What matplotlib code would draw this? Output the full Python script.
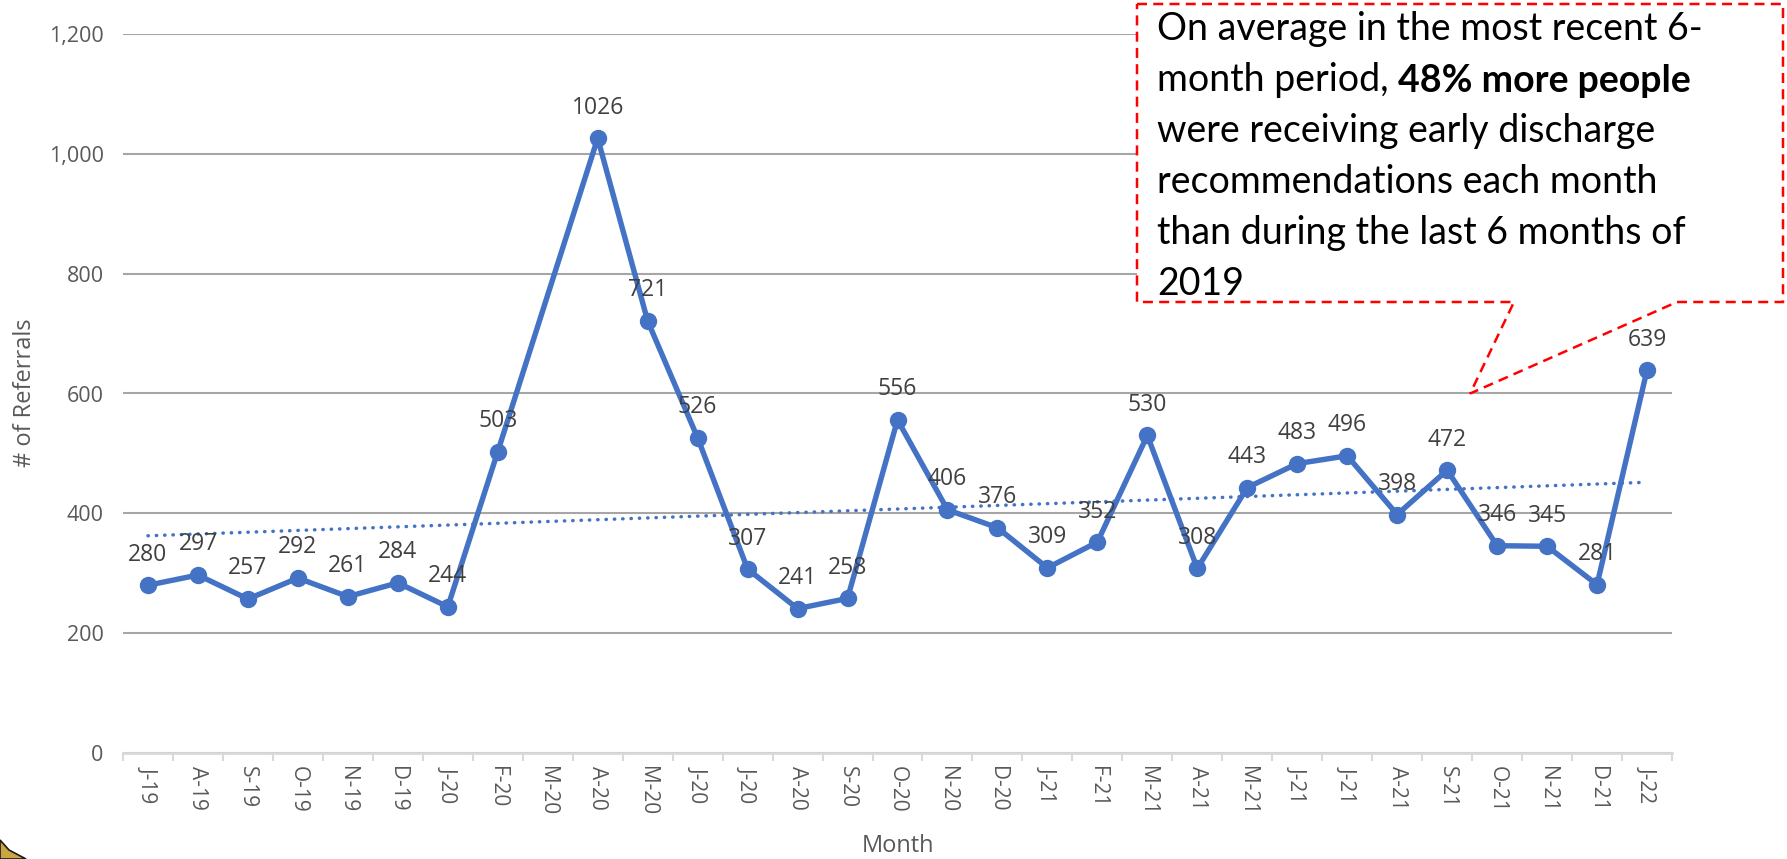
"""Monthly early-discharge referrals, Jul 2019 - Jan 2022, with linear trend."""

import numpy as np
import matplotlib
matplotlib.use("Agg")
import matplotlib.pyplot as plt
import matplotlib.ticker as mticker
from matplotlib.patches import Polygon
from matplotlib.text import Annotation

# --- data -------------------------------------------------------------------
MONTHS = [
    "J-19", "A-19", "S-19", "O-19", "N-19", "D-19",
    "J-20", "F-20", "M-20", "A-20", "M-20", "J-20",
    "J-20", "A-20", "S-20", "O-20", "N-20", "D-20",
    "J-21", "F-21", "M-21", "A-21", "M-21", "J-21",
    "J-21", "A-21", "S-21", "O-21", "N-21", "D-21",
    "J-22",
]
# M-20 has no value in the source chart; the line simply bridges it
REFERRALS = [
    280, 297, 257, 292, 261, 284,
    244, 503, None, 1026, 721, 526,
    307, 241, 258, 556, 406, 376,
    309, 352, 530, 308, 443, 483,
    496, 398, 472, 346, 345, 281,
    639,
]
Y_TICKS = [0, 200, 400, 600, 800, 1000, 1200]

CALLOUT_LINES = [
    "On average in the most recent 6-",
    "month period, ",
    "were receiving early discharge",
    "recommendations each month",
    "than during the last 6 months of",
    "2019",
]
CALLOUT_BOLD = "48% more people"
CALLOUT_POINT = (26.46, 600)   # where the callout pointer touches

BLUE = "#4472C4"
GREY_TXT = "#595959"
LABEL_TXT = "#404040"

W, H = 1787, 859


def px(x, y):
    """figure pixel (origin top-left) -> figure fraction"""
    return x / W, 1 - y / H


def main() -> None:
    fig = plt.figure(figsize=(W / 100, H / 100), dpi=100)
    ax = fig.add_axes([123 / W, 1 - 753 / H, 1549 / W, 719 / H])

    xs = np.arange(len(MONTHS))
    ys = np.array([np.nan if v is None else v for v in REFERRALS], dtype=float)
    ok = ~np.isnan(ys)

    # trend line (least squares over the months that have data, as Excel does)
    slope, icpt = np.polyfit(xs[ok], ys[ok], 1)
    ax.plot(xs, slope * xs + icpt, color=BLUE, lw=2.5,
            linestyle=(0, (0.1, 2.3)), dash_capstyle="round", zorder=3)

    ax.plot(xs[ok], ys[ok], color=BLUE, lw=3.9, marker="o", markersize=11.5,
            solid_joinstyle="round", zorder=4)

    for x, y in zip(xs[ok], ys[ok]):
        ax.annotate(f"{int(y)}", (x, y), xytext=(0, 22), textcoords="offset points",
                    ha="center", va="center", fontsize=16.5, color=LABEL_TXT,
                    family=["Open Sans", "DejaVu Sans"], zorder=5)

    # axes styling
    ax.set_xlim(-0.5, len(MONTHS) - 0.5)
    ax.set_ylim(0, 1200)
    ax.set_yticks(Y_TICKS)
    ax.yaxis.set_major_formatter(mticker.FuncFormatter(lambda v, _: f"{int(v):,}"))
    ax.set_xticks(xs)
    ax.set_xticklabels(MONTHS, rotation=-90)
    ax.set_xticks(np.arange(len(MONTHS) + 1) - 0.5, minor=True)
    ax.tick_params(axis="x", which="major", length=0, pad=9, labelsize=15,
                   labelcolor=GREY_TXT)
    ax.tick_params(axis="x", which="minor", length=6, width=1.5, color="#D9D9D9")
    ax.tick_params(axis="y", length=0, pad=14, labelsize=15.5, labelcolor=GREY_TXT)
    for lab in ax.get_xticklabels() + ax.get_yticklabels():
        lab.set_family(["Open Sans", "DejaVu Sans"])

    ax.grid(axis="y", color="#A6A6A6", lw=1.5)
    ax.set_axisbelow(True)
    for side in ("top", "right", "left"):
        ax.spines[side].set_visible(False)
    ax.spines["bottom"].set_color("#D9D9D9")
    ax.spines["bottom"].set_linewidth(2)

    title_font = dict(family=["Liberation Sans Narrow", "Open Sans", "DejaVu Sans"],
                      fontsize=17, color=GREY_TXT)
    fig.text(*px(898, 846), "Month", ha="center", va="center", **title_font)
    fig.text(*px(25, 393), "# of Referrals", ha="center", va="center",
             rotation=90, **title_font)

    # --- callout box with pointer ---
    tip = fig.transFigure.inverted().transform(ax.transData.transform(CALLOUT_POINT))
    outline = [px(1137, 4), px(1783, 4), px(1783, 302), px(1677, 302),
               tuple(tip), px(1514, 302), px(1137, 302)]
    fig.patches.append(Polygon(outline, closed=True, transform=fig.transFigure,
                               facecolor="white", edgecolor="#FF0000", lw=1.8,
                               linestyle=(0, (4, 2.5)), zorder=10))

    box_font = dict(family=["Lato", "DejaVu Sans"], fontsize=27, color="black",
                    zorder=11)
    for i, line in enumerate(CALLOUT_LINES):
        t = fig.text(*px(1157, 40 + 51 * i), line, ha="left", va="baseline", **box_font)
        if i == 1:
            bold = Annotation(CALLOUT_BOLD, xy=(1, 0), xycoords=t, ha="left",
                              va="bottom", fontweight="bold",
                              annotation_clip=False, **box_font)
            fig.add_artist(bold)

    # corner of the slide logo peeking in at the bottom left
    fig.patches.append(Polygon([px(0, 840), px(9, 850), px(26, 859), px(0, 859)],
                               closed=True, transform=fig.transFigure,
                               facecolor="#C9A640", edgecolor="#1A1A1A", lw=1.2))

    fig.savefig("out.png", dpi=100)
    plt.close(fig)


if __name__ == "__main__":
    main()
